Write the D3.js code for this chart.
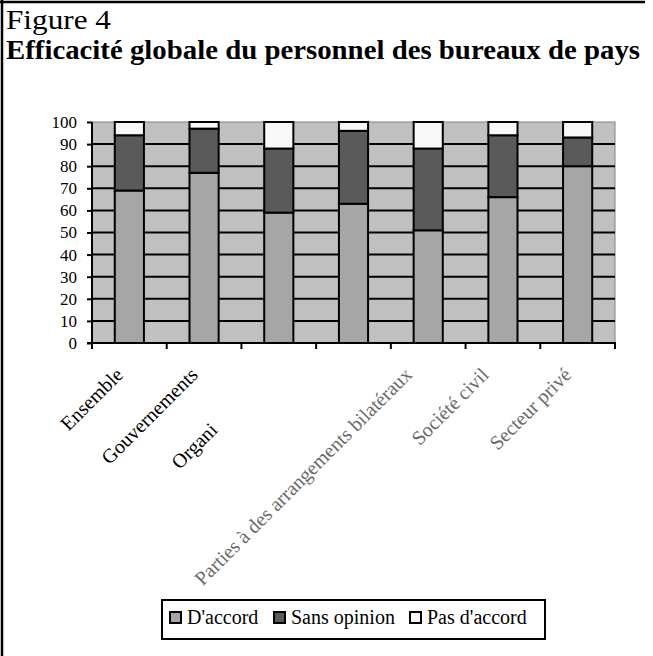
<!DOCTYPE html>
<html>
<head>
<meta charset="utf-8">
<script src="https://cdn.jsdelivr.net/npm/d3@7"></script>
<style>
  body { margin: 0; background: #fff; }
  svg text { font-family: "Liberation Serif", "Times New Roman", serif; }
</style>
</head>
<body>
<div id="thediv"></div>
<script>
// data
var categories = ['Ensemble', 'Gouvernements', 'Organi', '', "Parties à des arrangements bilatéraux", 'Société civil', 'Secteur privé'];
var daccord = [69, 77, 59, 63, 51, 66, 80];
var sansOpinion = [25, 20, 29, 33, 37, 28, 13];
var pasDaccord = [6, 3, 12, 4, 12, 6, 7];
var seriesNames = ["D'accord", 'Sans opinion', "Pas d'accord"];
var yTicks = [0, 10, 20, 30, 40, 50, 60, 70, 80, 90, 100];

var svgWidth = 653, svgHeight = 656;
var serif = '"Liberation Serif", "Times New Roman", serif';
var colors = ['#a6a6a6', '#5a5a5a', '#f8f8f8'];
var plot = { left: 92, right: 615, top: 122, bottom: 343 };

function createSvg(parent, height, width) {
  return d3.select(parent).append('svg').attr('height', height).attr('width', width);
}
var svg = createSvg('#thediv', svgHeight, svgWidth);

// frame
svg.append('line').attr('x1', 2).attr('y1', 0).attr('x2', 2).attr('y2', svgHeight)
  .attr('stroke', '#000').attr('stroke-width', 2.5);
svg.append('line').attr('x1', 0).attr('y1', 2).attr('x2', 645).attr('y2', 2)
  .attr('stroke', '#000').attr('stroke-width', 2.5);

// titles
svg.append('text').attr('x', 6).attr('y', 29).attr('font-size', 28).attr('font-family', serif)
  .attr('textLength', 105).attr('lengthAdjust', 'spacingAndGlyphs')
  .text('Figure 4');
svg.append('text').attr('x', 6).attr('y', 59).attr('font-size', 28).attr('font-weight', 'bold')
  .attr('font-family', serif)
  .attr('textLength', 634).attr('lengthAdjust', 'spacingAndGlyphs')
  .text('Efficacité globale du personnel des bureaux de pays');

var idx = d3.range(categories.length);
var x = d3.scaleBand().domain(idx).range([plot.left, plot.right])
  .paddingInner(0.61).paddingOuter(0.305);
var y = d3.scaleLinear().domain([0, 100]).range([plot.bottom, plot.top]);

// plot background
svg.append('rect').attr('x', plot.left).attr('y', plot.top)
  .attr('width', plot.right - plot.left).attr('height', plot.bottom - plot.top)
  .attr('fill', '#c0c0c0').attr('stroke', '#808080').attr('stroke-width', 1);

// gridlines
svg.append('g').selectAll('line')
  .data(yTicks.filter(function(d) { return d > 0 && d < 100; }))
  .enter().append('line')
  .attr('x1', plot.left).attr('x2', plot.right)
  .attr('y1', function(d) { return y(d); }).attr('y2', function(d) { return y(d); })
  .attr('stroke', '#000').attr('stroke-width', 2);

// stacked bars
var rows = idx.map(function(i) {
  return { i: i, "D'accord": daccord[i], 'Sans opinion': sansOpinion[i], "Pas d'accord": pasDaccord[i] };
});
var stacked = d3.stack().keys(seriesNames)(rows);

svg.append('g').selectAll('g')
  .data(stacked)
  .enter().append('g')
  .attr('fill', function(d, k) { return colors[k]; })
  .selectAll('rect')
  .data(function(d) { return d; })
  .enter().append('rect')
  .attr('x', function(d) { return x(d.data.i); })
  .attr('width', x.bandwidth())
  .attr('y', function(d) { return y(d[1]); })
  .attr('height', function(d) { return y(d[0]) - y(d[1]); })
  .attr('stroke', '#000').attr('stroke-width', 2);

// y axis
var yAxis = d3.axisLeft(y).tickValues(yTicks).tickSize(5).tickPadding(10);
var gy = svg.append('g').attr('transform', 'translate(' + plot.left + ',0)').call(yAxis)
  .attr('font-family', serif).attr('font-size', 17);
gy.select('.domain').attr('stroke-width', 2).attr('d', 'M0,' + plot.top + 'V' + plot.bottom);
gy.selectAll('.tick line').attr('stroke-width', 2);
gy.selectAll('.tick text').attr('fill', '#000');

// x axis line and ticks at category edges
svg.append('line').attr('x1', plot.left - 5).attr('x2', plot.right + 1)
  .attr('y1', plot.bottom).attr('y2', plot.bottom)
  .attr('stroke', '#000').attr('stroke-width', 2);
var step = x.step();
svg.append('g').selectAll('line')
  .data(d3.range(categories.length + 1))
  .enter().append('line')
  .attr('x1', function(k) { return plot.left + k * step; })
  .attr('x2', function(k) { return plot.left + k * step; })
  .attr('y1', plot.bottom).attr('y2', plot.bottom + 6)
  .attr('stroke', '#000').attr('stroke-width', 2);

// category labels, rotated
var alongShift = { 2: -78 };
var sideShift = { 4: -10, 5: -8 };
svg.append('g').selectAll('text')
  .data(idx)
  .enter().append('text')
  .attr('transform', function(i) {
    var cx = x(i) + x.bandwidth() / 2 - 5 + (sideShift[i] || 0);
    return 'translate(' + cx + ',' + (plot.bottom + 33) + ') rotate(-45)';
  })
  .attr('dx', function(i) { return alongShift[i] || 0; })
  .attr('text-anchor', 'end')
  .attr('font-family', serif)
  .attr('font-size', 20)
  .attr('fill', function(i) { return i >= 4 ? '#6a6a6a' : '#000'; })
  .text(function(i) { return categories[i]; });

// legend
var legend = svg.append('g');
legend.append('rect').attr('x', 162).attr('y', 600).attr('width', 383).attr('height', 39)
  .attr('fill', '#fff').attr('stroke', '#000').attr('stroke-width', 2);
var legendX = [170, 274, 410];
var items = legend.selectAll('g.item')
  .data(seriesNames)
  .enter().append('g').attr('class', 'item')
  .attr('transform', function(d, k) { return 'translate(' + legendX[k] + ',612)'; });
items.append('rect').attr('x', 0).attr('y', 0).attr('width', 11).attr('height', 11)
  .attr('fill', function(d, k) { return colors[k]; })
  .attr('stroke', '#000').attr('stroke-width', 2);
items.append('text').attr('x', 17).attr('y', 12).attr('font-size', 20)
  .attr('font-family', serif)
  .text(function(d) { return d; });
</script>
</body>
</html>
